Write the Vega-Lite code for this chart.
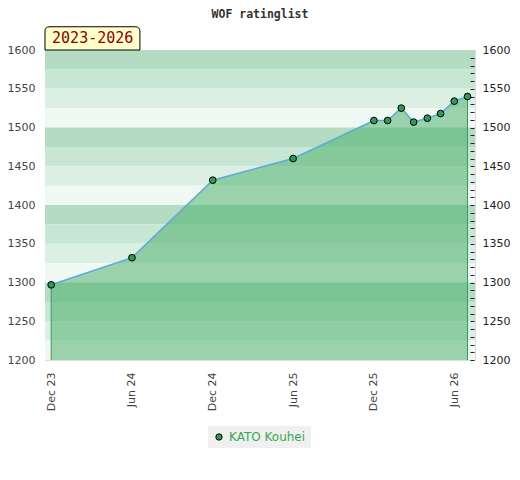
{
  "$schema": "https://vega.github.io/schema/vega-lite/v6.json",
  "autosize": "none",
  "padding": {"left": 45, "top": 50, "right": 45, "bottom": 120},
  "width": 430,
  "height": 310,
  "background": "white",
  "title": {"text": "WOF ratinglist", "font": "DejaVu Sans Mono", "fontWeight": "bold", "fontSize": 11.5, "color": "#333333", "offset": 6},
  "config": {
    "view": {"stroke": "#dddddd"},
    "axis": {"labelFont": "DejaVu Sans", "labelFontSize": 11, "grid": false, "domain": false}
  },
  "datasets": {
    "ratings": [
      {"date": "2023-12-01", "rating": 1297},
      {"date": "2024-06-01", "rating": 1332},
      {"date": "2024-12-01", "rating": 1432},
      {"date": "2025-06-01", "rating": 1460},
      {"date": "2025-12-01", "rating": 1509},
      {"date": "2026-01-01", "rating": 1509},
      {"date": "2026-02-01", "rating": 1525},
      {"date": "2026-03-01", "rating": 1507},
      {"date": "2026-04-01", "rating": 1512},
      {"date": "2026-05-01", "rating": 1518},
      {"date": "2026-06-01", "rating": 1534},
      {"date": "2026-07-01", "rating": 1540}
    ],
    "bands": [
      {"lo": 1575, "hi": 1600, "shade": "a"},
      {"lo": 1550, "hi": 1575, "shade": "b"},
      {"lo": 1525, "hi": 1550, "shade": "c"},
      {"lo": 1500, "hi": 1525, "shade": "d"},
      {"lo": 1475, "hi": 1500, "shade": "a"},
      {"lo": 1450, "hi": 1475, "shade": "b"},
      {"lo": 1425, "hi": 1450, "shade": "c"},
      {"lo": 1400, "hi": 1425, "shade": "d"},
      {"lo": 1375, "hi": 1400, "shade": "a"},
      {"lo": 1350, "hi": 1375, "shade": "b"},
      {"lo": 1325, "hi": 1350, "shade": "c"},
      {"lo": 1300, "hi": 1325, "shade": "d"},
      {"lo": 1275, "hi": 1300, "shade": "a"},
      {"lo": 1250, "hi": 1275, "shade": "b"},
      {"lo": 1225, "hi": 1250, "shade": "c"},
      {"lo": 1200, "hi": 1225, "shade": "d"}
    ],
    "label": [{"text": "2023-2026"}]
  },
  "layer": [
    {
      "data": {"name": "bands"},
      "mark": {"type": "rect"},
      "encoding": {
        "y": {"field": "lo", "type": "quantitative", "scale": {"domain": [1200, 1600], "nice": false, "zero": false},
          "axis": {"orient": "left", "values": [1200, 1250, 1300, 1350, 1400, 1450, 1500, 1550, 1600], "format": "d", "ticks": false, "labelPadding": 10, "labelColor": "#444444"}, "title": null},
        "y2": {"field": "hi"},
        "color": {"field": "shade", "type": "nominal", "legend": null,
          "scale": {"domain": ["a", "b", "c", "d"], "range": ["#b3dcc3", "#c7e6d3", "#dbefe2", "#eff8f2"]}}
      }
    },
    {
      "data": {"name": "ratings"},
      "mark": {"type": "area", "color": "#43ac63", "opacity": 0.5},
      "encoding": {
        "x": {"field": "date", "type": "temporal", "title": null,
          "scale": {"type": "utc", "domain": [{"year": 2023, "month": 11, "date": 17, "utc": true}, {"year": 2026, "month": 7, "date": 18, "utc": true}]},
          "axis": {"values": [
            {"year": 2023, "month": 12, "date": 1, "utc": true},
            {"year": 2024, "month": 6, "date": 1, "utc": true},
            {"year": 2024, "month": 12, "date": 1, "utc": true},
            {"year": 2025, "month": 6, "date": 1, "utc": true},
            {"year": 2025, "month": 12, "date": 1, "utc": true},
            {"year": 2026, "month": 6, "date": 1, "utc": true}],
            "format": "%b %y", "labelAngle": -90, "labelAlign": "right", "labelBaseline": "middle", "ticks": false, "labelPadding": 12, "labelColor": "#444444"}},
        "y": {"field": "rating", "type": "quantitative", "title": null,
          "axis": {"orient": "right", "offset": -5, "zindex": 1, "tickSize": 4, "tickColor": "#222222",
            "tickOpacity": {"condition": {"test": "datum.value === 1600", "value": 0}, "value": 1},
            "labelPadding": 8, "labelColor": "#222222", "labelOverlap": false, "format": "d",
            "values": [1200, 1210, 1220, 1230, 1240, 1250, 1260, 1270, 1280, 1290, 1300, 1310, 1320, 1330, 1340, 1350, 1360, 1370, 1380, 1390, 1400, 1410, 1420, 1430, 1440, 1450, 1460, 1470, 1480, 1490, 1500, 1510, 1520, 1530, 1540, 1550, 1560, 1570, 1580, 1590, 1600],
            "labelExpr": "datum.value % 50 === 0 ? datum.label : ''"}},
        "y2": {"datum": 1200}
      }
    },
    {
      "data": {"name": "ratings"},
      "mark": {"type": "line", "color": "#5fa8dc", "strokeWidth": 1.5},
      "encoding": {
        "x": {"field": "date", "type": "temporal"},
        "y": {"field": "rating", "type": "quantitative", "axis": null}
      }
    },
    {
      "data": {"name": "ratings"},
      "transform": [{"filter": {"or": [
        {"field": "date", "lt": {"year": 2024, "month": 1, "date": 1, "utc": true}},
        {"field": "date", "gt": {"year": 2026, "month": 6, "date": 15, "utc": true}}]}}],
      "mark": {"type": "rule", "color": "#3a9a5a", "strokeWidth": 1},
      "encoding": {
        "x": {"field": "date", "type": "temporal"},
        "y": {"field": "rating", "type": "quantitative", "axis": null},
        "y2": {"datum": 1200}
      }
    },
    {
      "data": {"name": "ratings"},
      "mark": {"type": "point", "filled": true, "size": 45, "stroke": "black", "strokeWidth": 1, "opacity": 1},
      "encoding": {
        "x": {"field": "date", "type": "temporal"},
        "y": {"field": "rating", "type": "quantitative", "axis": null},
        "fill": {"datum": "KATO Kouhei", "scale": {"range": ["#2e9a57"]},
          "legend": {"title": null, "orient": "none", "legendX": 163, "legendY": 376, "direction": "horizontal", "fillColor": "#f0f0f0", "padding": 5,
            "labelColor": "#33a852", "labelFont": "DejaVu Sans", "labelFontSize": 12, "symbolType": "circle", "symbolSize": 40,
            "symbolStrokeColor": "black", "symbolStrokeWidth": 1}},
        "tooltip": [
          {"field": "date", "type": "temporal", "format": "%b %Y", "title": "Date"},
          {"field": "rating", "type": "quantitative", "title": "Rating"}
        ]
      }
    },
    {
      "data": {"name": "label"},
      "mark": {"type": "rect", "fill": "#ffffcc", "stroke": "black", "strokeWidth": 1, "cornerRadiusTopLeft": 4, "cornerRadiusTopRight": 4},
      "encoding": {
        "x": {"datum": {"year": 2023, "month": 11, "date": 17, "utc": true}, "type": "temporal"},
        "x2": {"datum": {"year": 2024, "month": 6, "date": 19, "utc": true}},
        "y": {"datum": 1600, "type": "quantitative", "axis": null},
        "y2": {"datum": 1630}
      }
    },
    {
      "data": {"name": "label"},
      "mark": {"type": "text", "font": "DejaVu Sans Mono", "fontSize": 15, "color": "#8b0000", "align": "center", "baseline": "middle"},
      "encoding": {
        "x": {"datum": {"year": 2024, "month": 3, "date": 4, "utc": true}, "type": "temporal"},
        "y": {"datum": 1615, "type": "quantitative", "axis": null},
        "text": {"field": "text"}
      }
    }
  ],
  "resolve": {"axis": {"y": "independent"}}
}
